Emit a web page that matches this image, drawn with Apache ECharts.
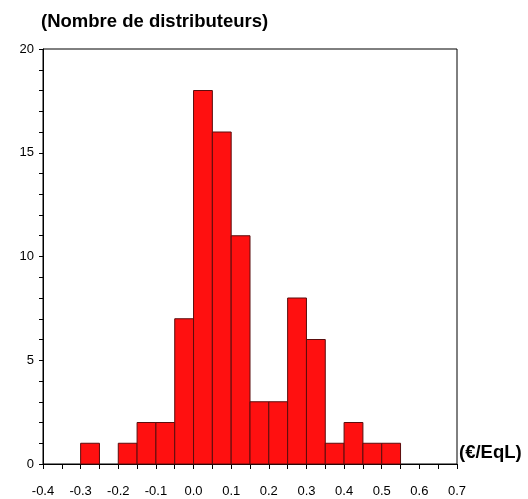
<!DOCTYPE html>
<html><head><meta charset="utf-8">
<script src="https://cdn.jsdelivr.net/npm/echarts@6/dist/echarts.min.js"></script>
<style>html,body{margin:0;padding:0;background:#fff}#c{width:528px;height:499px}</style>
</head><body><div id="c"></div>
<script>
const binStarts = [-0.30,-0.25,-0.20,-0.15,-0.10,-0.05,0.00,0.05,0.10,0.15,0.20,0.25,0.30,0.35,0.40,0.45,0.50];
const counts    = [1,0,1,2,2,7,18,16,11,3,3,8,6,1,2,1,1];
const binWidth = 0.05;
const yTitle = '(Nombre de distributeurs)';
const xTitle = '(€/EqL)';

const data = binStarts.map((s,i)=>[s, s+binWidth, counts[i]]);
const chart = echarts.init(document.getElementById('c'));
chart.setOption({
  animation:false,
  backgroundColor:'#fff',
  textStyle:{fontFamily:'Liberation Sans, Arial, sans-serif'},
  grid:{left:43,right:71,top:49,bottom:35,show:true,borderColor:'#000',borderWidth:1},
  graphic:[
    {type:'text',left:41,top:12,style:{text:yTitle,font:'bold 18.5px Liberation Sans, Arial',fill:'#000'}},
    {type:'text',left:459,top:443,style:{text:xTitle,font:'bold 18.5px Liberation Sans, Arial',fill:'#000'}}
  ],
  xAxis:{type:'value',min:-0.4,max:0.7,interval:0.1,
    axisLine:{onZero:false,lineStyle:{color:'#000'}},
    axisTick:{show:true,length:5,lineStyle:{color:'#000'}},
    minorTick:{show:true,splitNumber:2,length:5,lineStyle:{color:'#000'}},
    splitLine:{show:false},
    axisLabel:{color:'#000',fontSize:13,margin:21,formatter:v=>v.toFixed(1)}},
  yAxis:{type:'value',min:0,max:20,interval:5,
    axisLine:{show:true,onZero:false,lineStyle:{color:'#000'}},
    axisTick:{show:true,length:4,lineStyle:{color:'#000'}},
    minorTick:{show:true,splitNumber:5,length:4,lineStyle:{color:'#000'}},
    splitLine:{show:false},
    axisLabel:{color:'#000',fontSize:13,margin:9}},
  series:[{type:'custom',data:data,encode:{x:[0,1],y:2},
    renderItem:function(params,api){
      const v = api.value(2);
      if(!v) return null;
      const p0 = api.coord([api.value(0),0]);
      const p1 = api.coord([api.value(1),v]);
      return {type:'rect',shape:{x:p0[0],y:p1[1],width:p1[0]-p0[0],height:p0[1]-p1[1]},
        style:{fill:'#ff1010',stroke:'#5a0d0d',lineWidth:1}};
    }}]
});
</script></body></html>
